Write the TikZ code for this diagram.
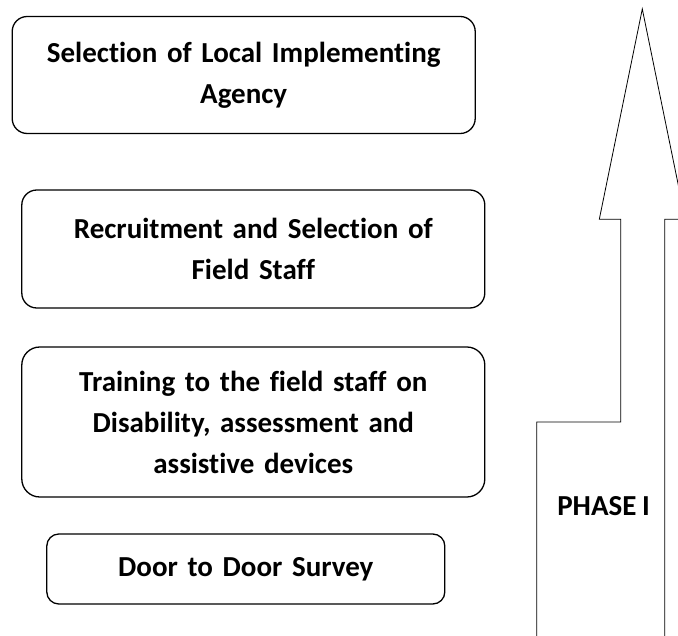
\documentclass[tikz,border=0pt]{standalone}
\usepackage{fontspec}
\setmainfont{Carlito}[Ligatures={NoCommon}, WordSpace=0.85]
\usepackage{tikz}
\usetikzlibrary{positioning}

\begin{document}
\begin{tikzpicture}[x=1pt, y=-1pt,
    stagebox/.style={draw=black, line width=1.3pt, rounded corners=15pt, align=center, text width=440pt, inner sep=0pt,
      font=\fontsize{29}{41}\selectfont\bfseries},
    phasearrow/.style={draw=black, line width=0.8pt}]
    \clip (0,0) rectangle (678,636);
    \node[stagebox, minimum width=463pt, minimum height=117pt] (S1) at (243.7,75) {Selection of Local Implementing\\Agency};
    \node[stagebox, minimum width=463pt, minimum height=118pt] (S2) at (253.3,249) {Recruitment and Selection of\\Field Staff};
    \node[stagebox, minimum width=463pt, minimum height=150pt, rounded corners=18pt] (S3) at (253.3,422) {Training to the field staff on\\Disability, assessment and\\assistive devices};
    \node[stagebox, minimum width=398pt, minimum height=70pt, rounded corners=12pt, text width=380pt] (S4) at (245.8,569) {Door to Door Survey};
    \draw[phasearrow] (536.7,645) -- (536.7,422) -- (620.7,422) -- (620.7,219.3) -- (599.3,219.3)
      -- (642.3,9) -- (685.3,219.3) -- (664.7,219.3) -- (664.7,645);
    \node[font=\fontsize{29}{41}\selectfont\bfseries] (P1) at (603.5,506) {PHASE I};
  \end{tikzpicture}
\end{document}
